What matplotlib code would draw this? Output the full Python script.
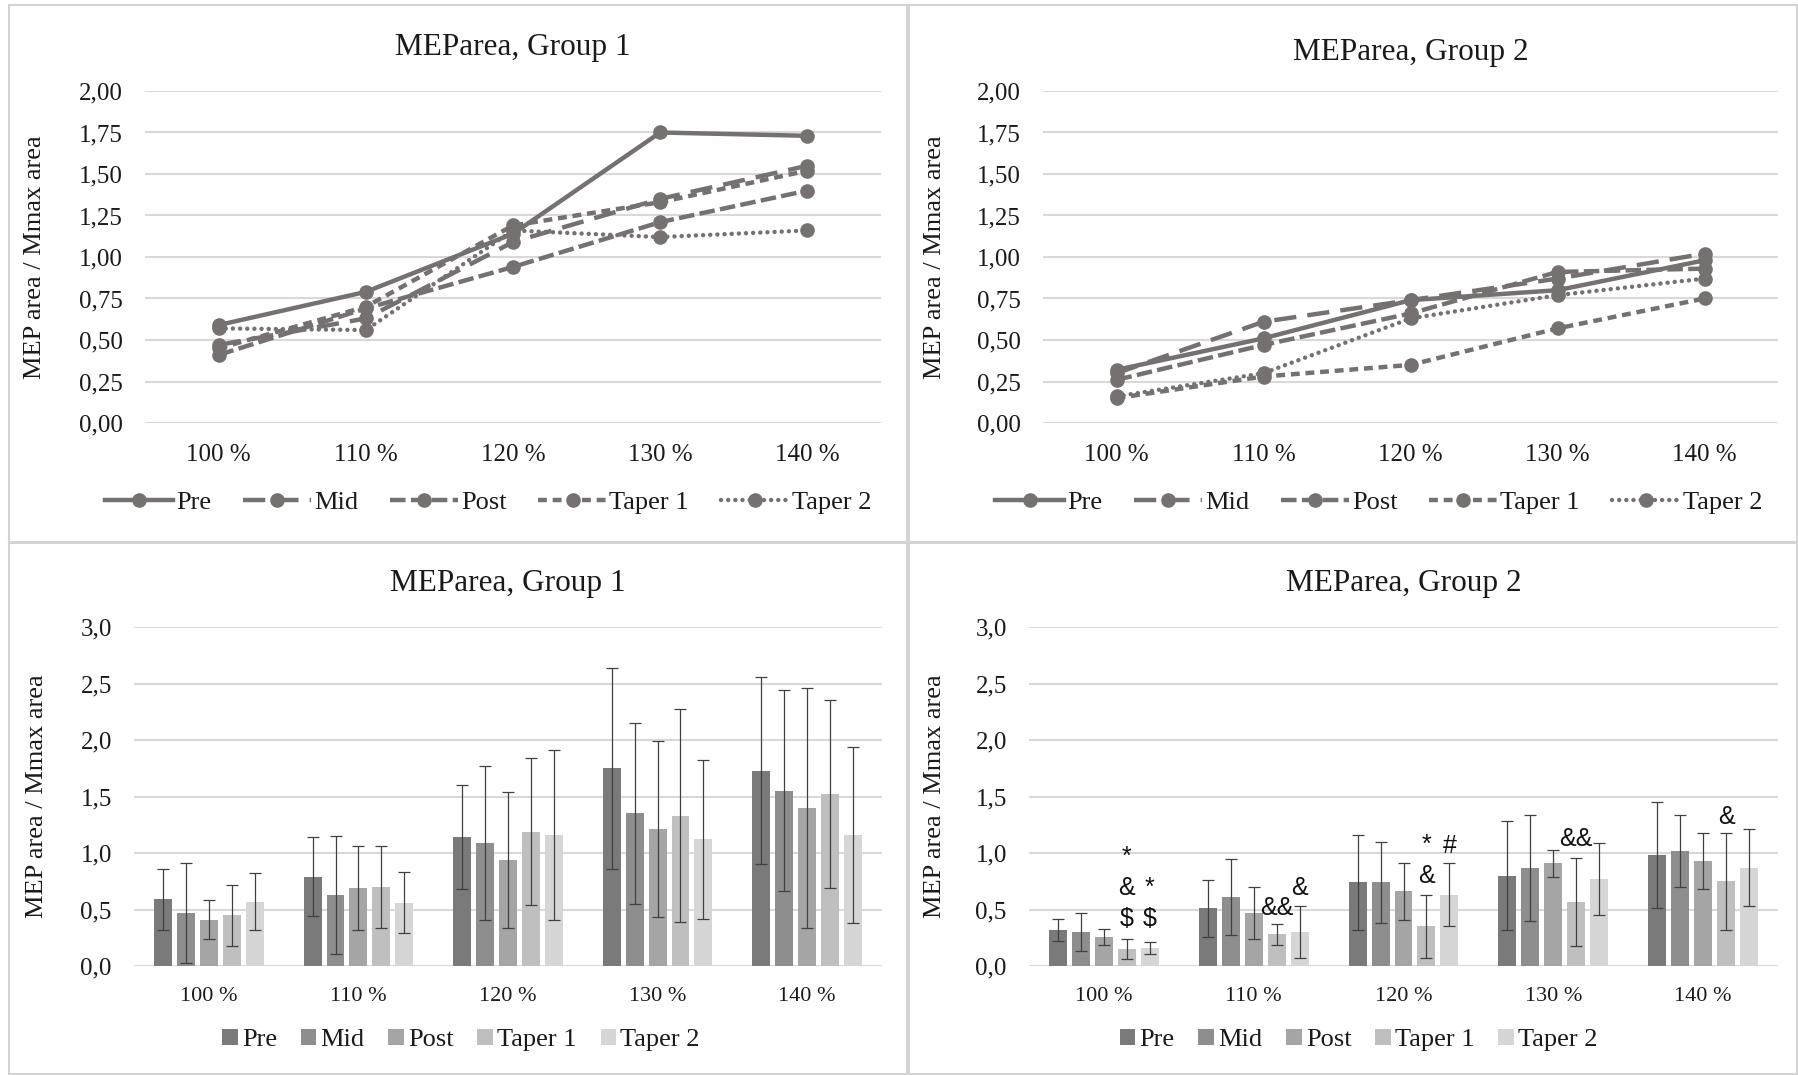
import numpy as np
import matplotlib.pyplot as plt
from matplotlib.patches import Rectangle
from matplotlib.ticker import FuncFormatter, MultipleLocator

plt.rcParams['font.family'] = ['Liberation Serif', 'DejaVu Serif']

# data
categories = ["100 %", "110 %", "120 %", "130 %", "140 %"]
series = ["Pre", "Mid", "Post", "Taper 1", "Taper 2"]

g1_pre = [0.59, 0.79, 1.14, 1.75, 1.73]
g1_mid = [0.47, 0.63, 1.09, 1.35, 1.55]
g1_post = [0.41, 0.69, 0.94, 1.21, 1.40]
g1_taper1 = [0.45, 0.70, 1.19, 1.33, 1.52]
g1_taper2 = [0.57, 0.56, 1.16, 1.12, 1.16]

g1_pre_sd = [0.27, 0.35, 0.46, 0.89, 0.83]
g1_mid_sd = [0.44, 0.52, 0.68, 0.80, 0.89]
g1_post_sd = [0.17, 0.37, 0.60, 0.78, 1.06]
g1_taper1_sd = [0.27, 0.36, 0.65, 0.94, 0.83]
g1_taper2_sd = [0.25, 0.27, 0.75, 0.70, 0.78]

g2_pre = [0.32, 0.51, 0.74, 0.80, 0.98]
g2_mid = [0.30, 0.61, 0.74, 0.87, 1.02]
g2_post = [0.26, 0.47, 0.66, 0.91, 0.93]
g2_taper1 = [0.15, 0.28, 0.35, 0.57, 0.75]
g2_taper2 = [0.16, 0.30, 0.63, 0.77, 0.87]

g2_pre_sd = [0.10, 0.25, 0.42, 0.48, 0.47]
g2_mid_sd = [0.17, 0.34, 0.36, 0.47, 0.32]
g2_post_sd = [0.07, 0.23, 0.25, 0.12, 0.25]
g2_taper1_sd = [0.09, 0.09, 0.28, 0.39, 0.43]
g2_taper2_sd = [0.05, 0.23, 0.28, 0.32, 0.34]

g1_means = [g1_pre, g1_mid, g1_post, g1_taper1, g1_taper2]
g1_sds = [g1_pre_sd, g1_mid_sd, g1_post_sd, g1_taper1_sd, g1_taper2_sd]
g2_means = [g2_pre, g2_mid, g2_post, g2_taper1, g2_taper2]
g2_sds = [g2_pre_sd, g2_mid_sd, g2_post_sd, g2_taper1_sd, g2_taper2_sd]

# significance marks on group 2 bars, stacked per bar
# (category, series, y of the lowest mark, marks from top to bottom)
sig_cat = [0, 0, 1, 1, 2, 2, 3, 4]
sig_ser = [3, 4, 3, 4, 3, 4, 3, 3]
sig_y = [0.44, 0.44, 0.53, 0.71, 0.82, 1.08, 1.14, 1.335]
sig_txt = ["*\n&\n$", "*\n$", "&&", "&", "*\n&", "#", "&&", "&"]

line_color = "#767171"
bar_colors = ["#7a7a7a", "#8e8e8e", "#a5a5a5", "#bfbfbf", "#d6d6d6"]
line_styles = ["-", (0, (5, 2.5)), (0, (3.5, 1.2)), (0, (2, 1.3)), (0, (0.01, 1.6))]
text_color = "#1a1a1a"
grid_color = "#d9d9d9"

W, H = 1798, 1075
fig = plt.figure(figsize=(W / 100, H / 100), dpi=100)


def fig_ax(x0, y0, x1, y1):
    return fig.add_axes([x0 / W, 1 - y1 / H, (x1 - x0) / W, (y1 - y0) / H])


# panel frames
for (x0, y0, x1, y1) in [(9, 5, 907, 542), (909, 5, 1797, 542),
                         (9, 543, 907, 1074), (909, 543, 1797, 1074)]:
    fig.patches.append(Rectangle((x0 / W, 1 - y1 / H), (x1 - x0) / W, (y1 - y0) / H,
                                 transform=fig.transFigure, fill=False,
                                 edgecolor="#d4d4d4", linewidth=1.5))

x = np.arange(len(categories))


def style_axis(ax, ymax, step, fmt, xfs):
    ax.set_xlim(-0.5, len(categories) - 0.5)
    ax.set_ylim(0, ymax)
    ax.yaxis.set_major_locator(MultipleLocator(step))
    ax.yaxis.set_major_formatter(FuncFormatter(lambda v, p: fmt.format(v).replace(".", ",")))
    ax.grid(axis="y", color=grid_color, linewidth=1.5)
    ax.set_axisbelow(True)
    for s in ax.spines.values():
        s.set_visible(False)
    ax.tick_params(axis="both", length=0, colors=text_color)
    ax.tick_params(axis="y", labelsize=18, pad=16)
    ax.tick_params(axis="x", labelsize=xfs, pad=15)
    ax.set_xticks(x)
    ax.set_xticklabels(categories)
    ax.set_ylabel("MEP area / Mmax area", fontsize=19, color=text_color)


def line_panel(ax, means, title, tpad, lx, ly):
    for i, name in enumerate(series):
        ln, = ax.plot(x, means[i], color=line_color, linewidth=3.2, linestyle=line_styles[i],
                      marker="o", markersize=9.5, label=name, clip_on=False)
        if i == 4:
            ln.set_dash_capstyle("round")
        else:
            ln.set_dash_capstyle("butt")
    style_axis(ax, 2.0, 0.25, "{:.2f}", 18)
    ax.set_title(title, fontsize=22.5, color=text_color, pad=tpad)
    ax.legend(loc="center", bbox_to_anchor=(lx, ly), ncol=5, frameon=False,
              fontsize=19, handlelength=2.6, handletextpad=0.1, columnspacing=1.2,
              labelcolor=text_color)


def bar_panel(ax, means, sds, title, tpad, lx, ly):
    bw = 0.12
    step = 0.153
    for i, name in enumerate(series):
        ax.bar(x + (i - 2) * step, means[i], width=bw, color=bar_colors[i], label=name,
               yerr=sds[i], capsize=4.5,
               error_kw=dict(ecolor="#404040", elinewidth=0.9, capthick=0.9))
    style_axis(ax, 3.0, 0.5, "{:.1f}", 16)
    ax.set_title(title, fontsize=22.5, color=text_color, pad=tpad)
    ax.legend(loc="center", bbox_to_anchor=(lx, ly), ncol=5, frameon=False,
              fontsize=19, handlelength=0.6, handleheight=0.6, handletextpad=0.15,
              columnspacing=0.9, labelcolor=text_color)
    return step


ax1 = fig_ax(145, 91, 881, 423)
line_panel(ax1, g1_means, "MEParea, Group 1", 26, 0.466, -0.238)
ax1.yaxis.set_label_coords(-0.1345, 0.5)

ax2 = fig_ax(1043, 91, 1778, 423)
line_panel(ax2, g2_means, "MEParea, Group 2", 22, 0.457, -0.238)
ax2.yaxis.set_label_coords(-0.132, 0.5)

ax3 = fig_ax(134, 627, 882, 966)
bar_panel(ax3, g1_means, g1_sds, "MEParea, Group 1", 26, 0.437, -0.218)
ax3.yaxis.set_label_coords(-0.115, 0.5)

ax4 = fig_ax(1029, 627, 1778, 966)
step = bar_panel(ax4, g2_means, g2_sds, "MEParea, Group 2", 26, 0.44, -0.218)
ax4.yaxis.set_label_coords(-0.111, 0.5)

sig_fs = 18
for c, s, yv, t in zip(sig_cat, sig_ser, sig_y, sig_txt):
    # y is the middle of the lowest glyph; drop the text box so its ink sits there
    ax4.annotate(t, (c + (s - 2) * step, yv), xytext=(0, -0.57 * sig_fs),
                 textcoords="offset points", ha="center", va="bottom",
                 multialignment="center", linespacing=1.35, fontsize=sig_fs,
                 family=["Liberation Sans", "DejaVu Sans"], color="#111111")

fig.savefig("out.png", dpi=100, facecolor="white")
